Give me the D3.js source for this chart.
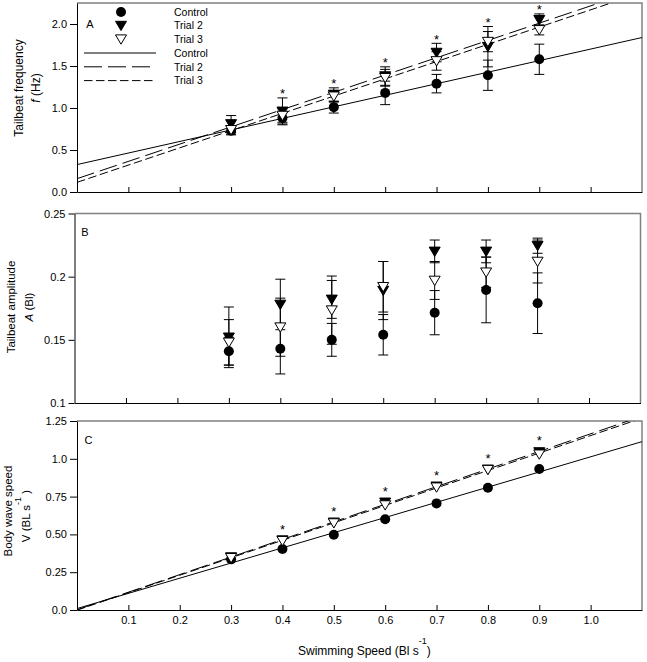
<!DOCTYPE html>
<html><head><meta charset="utf-8">
<script src="https://cdn.jsdelivr.net/npm/d3@7"></script>
<style>
body{margin:0;background:#fff}
svg{display:block}
text{font-family:"Liberation Sans",Arial,Helvetica,sans-serif;fill:#000}
</style>
</head><body>
<svg id="chart" width="647" height="662"></svg>
<script>
// ---------- data ----------
const speeds = [0.3, 0.4, 0.5, 0.6, 0.7, 0.8, 0.9];
const seriesNames = ["Control", "Trial 2", "Trial 3"];

// Panel A: tailbeat frequency (Hz)
const freqControl    = [0.73, 0.88, 1.01, 1.18, 1.29, 1.39, 1.58];
const freqControlErr = [0.05, 0.07, 0.07, 0.14, 0.11, 0.18, 0.18];
const freqTrial2     = [0.81, 0.96, 1.16, 1.38, 1.66, 1.73, 2.05];
const freqTrial2Err  = [0.10, 0.16, 0.08, 0.11, 0.11, 0.24, 0.07];
const freqTrial3     = [0.74, 0.91, 1.14, 1.36, 1.56, 1.79, 1.93];
const freqTrial3Err  = [0.05, 0.08, 0.07, 0.10, 0.11, 0.12, 0.06];

// Panel B: tailbeat amplitude (BL)
const ampControl    = [0.141, 0.143, 0.150, 0.154, 0.1715, 0.1895, 0.179];
const ampControlErr = [0.011, 0.020, 0.013, 0.016, 0.0175, 0.026, 0.024];
const ampTrial2     = [0.152, 0.178, 0.182, 0.189, 0.220, 0.220, 0.2245];
const ampTrial2Err  = [0.024, 0.020, 0.015, 0.023, 0.009, 0.009, 0.006];
const ampTrial3     = [0.148, 0.160, 0.1735, 0.192, 0.197, 0.2035, 0.212];
const ampTrial3Err  = [0.018, 0.023, 0.027, 0.020, 0.015, 0.012, 0.017];

// Panel C: body wave speed (BL s-1)
const waveControl = [0.335, 0.403, 0.498, 0.600, 0.705, 0.809, 0.932];
const waveTrial2  = [0.350, 0.462, 0.580, 0.712, 0.818, 0.930, 1.045];
const waveTrial3  = [0.345, 0.458, 0.575, 0.694, 0.812, 0.928, 1.030];

// significance markers
const starSpeedsA = [0.4, 0.5, 0.6, 0.7, 0.8, 0.9];
const starSpeedsC = [0.4, 0.5, 0.6, 0.7, 0.8, 0.9];

// ticks
const xTicks = [0.1, 0.2, 0.3, 0.4, 0.5, 0.6, 0.7, 0.8, 0.9, 1.0];
const xTickLabels = ["0.1","0.2","0.3","0.4","0.5","0.6","0.7","0.8","0.9","1.0"];
const freqTicks = [0, 0.5, 1.0, 1.5, 2.0];
const freqTickLabels = ["0.0","0.5","1.0","1.5","2.0"];
const ampTicks = [0.1, 0.15, 0.2, 0.25];
const ampTickLabels = ["0.1","0.15","0.2","0.25"];
const waveTicks = [0, 0.25, 0.5, 0.75, 1.0, 1.25];
const waveTickLabels = ["0.0","0.25","0.50","0.75","1.0","1.25"];

// ---------- helpers ----------
function linfit(xs, ys) {
  const mx = d3.mean(xs), my = d3.mean(ys);
  const sxy = d3.sum(xs, (x, i) => (x - mx) * (ys[i] - my));
  const sxx = d3.sum(xs, x => (x - mx) * (x - mx));
  const b = sxy / sxx;
  return {a: my - b * mx, b};
}

const svg = d3.select("#chart");
const FONT = 11;
const dashes = [null, "18,6", "8.5,3.5"];
const triPath = "M-5.5,-4.3L5.5,-4.3L0,5Z";

function drawMarker(g, kind, cx, cy) {
  if (kind === 0) {
    g.append("circle").attr("cx", cx).attr("cy", cy).attr("r", 5).attr("fill", "#000");
  } else {
    g.append("path").attr("d", triPath)
      .attr("transform", `translate(${cx},${cy})`)
      .attr("fill", kind === 1 ? "#000" : "#fff")
      .attr("stroke", "#000").attr("stroke-width", 1);
  }
}

function drawPanel(cfg) {
  const x = d3.scaleLinear().domain([0, 1.1]).range([cfg.left, cfg.right]);
  const y = d3.scaleLinear().domain(cfg.yDomain).range([cfg.bottom, cfg.top]);
  const g = svg.append("g");
  const id = "clip" + cfg.name;
  svg.append("clipPath").attr("id", id).append("rect")
    .attr("x", cfg.left).attr("y", cfg.top)
    .attr("width", cfg.right - cfg.left).attr("height", cfg.bottom - cfg.top);

  // frame top/right (grey)
  g.append("path")
    .attr("d", `M${cfg.left},${cfg.top}H${cfg.right}V${cfg.bottom}`)
    .attr("fill", "none").attr("stroke", "#808080").attr("stroke-width", 1.5);

  // axes
  const ya = d3.axisLeft(y).tickValues(cfg.yTicks)
    .tickFormat((d, i) => cfg.yLabels[i]).tickSizeInner(cfg.yTickLen).tickSizeOuter(0).tickPadding(3);
  const yg = g.append("g").attr("transform", `translate(${cfg.left},0)`).call(ya);
  const xa = d3.axisBottom(x).tickValues(xTicks)
    .tickFormat((d, i) => cfg.xLabels ? xTickLabels[i] : "")
    .tickSizeInner(-5).tickSizeOuter(0).tickPadding(6);
  const xg = g.append("g").attr("transform", `translate(0,${cfg.bottom})`).call(xa);
  [yg, xg].forEach(a => {
    a.selectAll("text").attr("font-size", FONT).attr("font-family", "Liberation Sans, Arial, sans-serif").attr("fill", "#000");
    a.selectAll("path,line").attr("stroke", "#000");
  });

  // fit lines
  const lg = g.append("g").attr("clip-path", `url(#${id})`);
  if (cfg.fit) {
    cfg.series.forEach((s, k) => {
      const f = linfit(speeds, s.v);
      lg.append("line")
        .attr("x1", x(0)).attr("y1", y(f.a))
        .attr("x2", x(1.1)).attr("y2", y(f.a + f.b * 1.1))
        .attr("stroke", "#000").attr("stroke-width", 1)
        .attr("stroke-dasharray", dashes[k]);
    });
  }

  // error bars
  const eg = g.append("g").attr("stroke", "#000").attr("stroke-width", 1);
  cfg.series.forEach(s => {
    if (!s.e) return;
    speeds.forEach((sp, j) => {
      const cx = x(sp), lo = y(s.v[j] - s.e[j]), hi = y(s.v[j] + s.e[j]);
      eg.append("line").attr("x1", cx).attr("x2", cx).attr("y1", lo).attr("y2", hi);
      eg.append("line").attr("x1", cx - 5).attr("x2", cx + 5).attr("y1", lo).attr("y2", lo);
      eg.append("line").attr("x1", cx - 5).attr("x2", cx + 5).attr("y1", hi).attr("y2", hi);
    });
  });

  // markers
  const mg = g.append("g");
  cfg.series.forEach((s, k) => {
    speeds.forEach((sp, j) => drawMarker(mg, k, x(sp), y(s.v[j])));
  });

  // stars
  if (cfg.stars) {
    cfg.stars.forEach(sp => {
      const j = speeds.indexOf(sp);
      const top = d3.max(cfg.series, s => s.v[j] + (s.e ? s.e[j] : 0));
      const cy = y(top) - cfg.starGap;
      g.append("text").attr("x", x(sp)).attr("y", cy + 7.5)
        .attr("text-anchor", "middle").attr("font-size", 13).text("*");
    });
  }

  // panel letter
  g.append("text").attr("x", cfg.letterPos[0]).attr("y", cfg.letterPos[1])
    .attr("text-anchor", "middle").attr("font-size", FONT).text(cfg.name);
  return {x, y, g};
}

// ---------- Panel A ----------
drawPanel({
  name: "A", left: 77, right: 642, top: 3, bottom: 192, yDomain: [0, 2.25],
  yTicks: freqTicks, yLabels: freqTickLabels, yTickLen: 7, xLabels: false, fit: true,
  series: [{v: freqControl, e: freqControlErr}, {v: freqTrial2, e: freqTrial2Err}, {v: freqTrial3, e: freqTrial3Err}],
  stars: starSpeedsA, starGap: 7, letterPos: [90, 28]
});

// legend in A
const leg = svg.append("g");
seriesNames.forEach((n, k) => {
  drawMarker(leg, k, 121, 12 + k * 13.6);
  leg.append("text").attr("x", 174).attr("y", 12 + k * 13.6 + 3.8).attr("font-size", 10.5).text(n);
  leg.append("line").attr("x1", 84).attr("x2", 156)
    .attr("y1", 53 + k * 13.8).attr("y2", 53 + k * 13.8)
    .attr("stroke", "#000").attr("stroke-width", 1).attr("stroke-dasharray", dashes[k]);
  leg.append("text").attr("x", 174).attr("y", 53 + k * 13.8 + 3.8).attr("font-size", 10.5).text(n);
});

// ---------- Panel B ----------
drawPanel({
  name: "B", left: 74.5, right: 640.5, top: 213.5, bottom: 403, yDomain: [0.1, 0.25],
  yTicks: ampTicks, yLabels: ampTickLabels, yTickLen: 6, xLabels: false, fit: false,
  series: [{v: ampControl, e: ampControlErr}, {v: ampTrial2, e: ampTrial2Err}, {v: ampTrial3, e: ampTrial3Err}],
  stars: null, letterPos: [85, 236]
});

// ---------- Panel C ----------
drawPanel({
  name: "C", left: 77, right: 642, top: 421, bottom: 610, yDomain: [0, 1.25],
  yTicks: waveTicks, yLabels: waveTickLabels, yTickLen: 7, xLabels: true, fit: true,
  series: [{v: waveControl}, {v: waveTrial2}, {v: waveTrial3}],
  stars: starSpeedsC, starGap: 14, letterPos: [88.5, 444]
});

// ---------- axis titles ----------
function vTitle(xb, yc, size, build) {
  const t = svg.append("text").attr("transform", `translate(${xb},${yc}) rotate(-90)`)
    .attr("text-anchor", "middle").attr("font-size", size);
  build(t);
}
vTitle(23, 88, 12, t => t.text("Tailbeat frequency"));
vTitle(40, 88, 12, t => { t.append("tspan").attr("font-style", "italic").text("f"); t.append("tspan").text(" (Hz)"); });
vTitle(15, 307, 11.5, t => t.text("Tailbeat amplitude"));
vTitle(33, 307, 11.5, t => { t.append("tspan").attr("font-style", "italic").text("A"); t.append("tspan").text(" (Bl)"); });
vTitle(12, 511, 11.5, t => t.text("Body wave speed"));
vTitle(30, 516, 11.5, t => {
  t.append("tspan").text("V (BL s");
  t.append("tspan").attr("dy", -9).attr("font-size", 9).text("-1");
  t.append("tspan").attr("dy", 9).text(" )");
});

const xt = svg.append("text").attr("x", 298).attr("y", 655).attr("font-size", 12);
xt.append("tspan").text("Swimming Speed (Bl s");
xt.append("tspan").attr("dy", -11).attr("font-size", 9).text("-1");
xt.append("tspan").attr("dy", 11).text(")");
</script>
</body></html>
